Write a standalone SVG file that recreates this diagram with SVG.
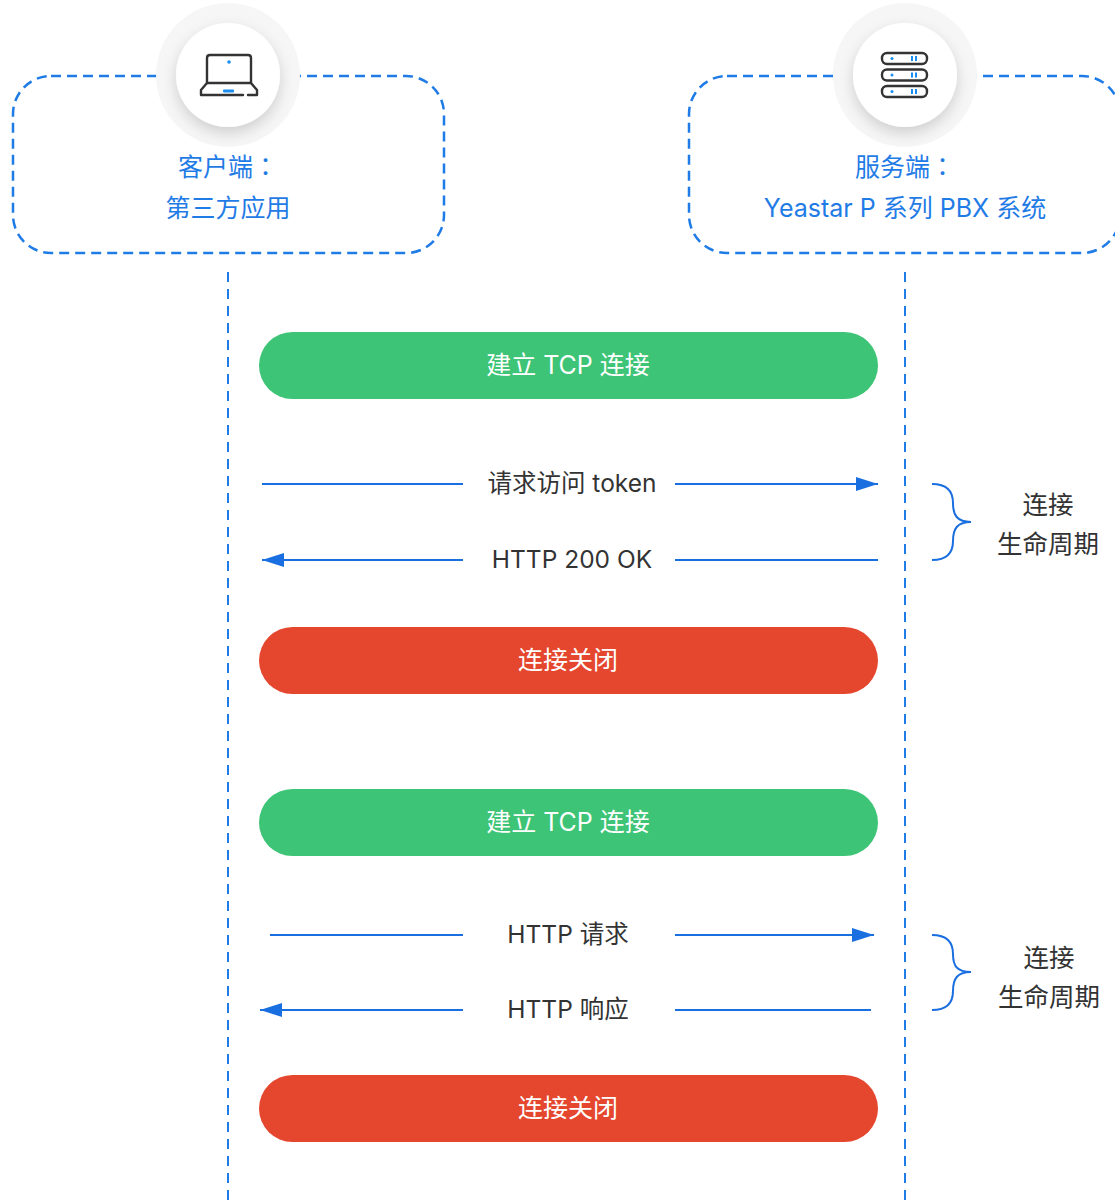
<svg xmlns="http://www.w3.org/2000/svg" width="1115" height="1203" viewBox="0 0 1115 1203">
<defs>
<style>
.box{fill:none;stroke:#1f7be6;stroke-width:2.5;stroke-dasharray:10 6}
.life{fill:none;stroke:#1f7be6;stroke-width:2;stroke-dasharray:10 7}
.head{font-family:Inter,"Noto Sans CJK SC",sans-serif;font-size:25px;fill:#1f7be6;text-anchor:middle}
.colon{font-family:"Noto Sans CJK TC",sans-serif}
.pilltxt{font-family:Inter,"Noto Sans CJK SC",sans-serif;font-size:25px;fill:#ffffff;text-anchor:middle}
.lbl{font-family:Inter,"Noto Sans CJK SC",sans-serif;font-size:24.5px;fill:#333333;text-anchor:middle}
.blbl{font-family:"Noto Sans CJK SC",sans-serif;font-size:25.5px;fill:#333333;text-anchor:middle}
.msg{fill:none;stroke:#1a6fe0;stroke-width:2}
.brace{fill:none;stroke:#1a6fe0;stroke-width:2}
.green{fill:#3dc476}
.red{fill:#e5462e}
.ico{fill:none;stroke:#333333;stroke-width:2.4;stroke-linejoin:round;stroke-linecap:round}
.icob{fill:#1a8ef0}
</style>
<filter id="sh" x="-60%" y="-60%" width="220%" height="220%">
<feDropShadow dx="0" dy="6" stdDeviation="7" flood-color="#000000" flood-opacity="0.16"/>
</filter>
<marker id="ah" markerUnits="userSpaceOnUse" markerWidth="24" markerHeight="16" refX="22" refY="7" orient="auto" viewBox="0 0 24 16">
<path d="M0,0 L22,7 L0,14 Z" fill="#1a6fe0"/>
</marker>
</defs>

<g id="client">
<rect class="box" x="13" y="76" width="431" height="177" rx="38"/>
<circle cx="228" cy="75" r="72" fill="#f6f6f7"/>
<circle cx="228" cy="75" r="52" fill="#ffffff" filter="url(#sh)"/>
<path class="ico" d="M207,83 L207,58 Q207,55 210,55 L248,55 Q251,55 251,58 L251,83 Z"/>
<path class="ico" d="M207,83 L201,90 L201,95 L243,95 M248,95 L257,95 L257,90 L251,83"/>
<circle class="icob" cx="229" cy="62" r="1.8"/>
<rect class="icob" x="223" y="89.5" width="11" height="3" rx="1"/>
<text class="head" x="228" y="176">客户端<tspan class="colon">：</tspan></text>
<text class="head" x="228" y="217">第三方应用</text>
</g>

<g id="server">
<rect class="box" x="689" y="76" width="431" height="177" rx="38"/>
<circle cx="905" cy="75" r="72" fill="#f6f6f7"/>
<circle cx="905" cy="75" r="52" fill="#ffffff" filter="url(#sh)"/>
<rect class="ico" x="882" y="53" width="45" height="11" rx="5"/>
<rect class="ico" x="882" y="69.5" width="45" height="11" rx="5"/>
<rect class="ico" x="882" y="86" width="45" height="11" rx="5"/>
<circle class="icob" cx="892" cy="58.5" r="1.5"/>
<circle class="icob" cx="892" cy="75" r="1.5"/>
<circle class="icob" cx="892" cy="91.5" r="1.5"/>
<rect class="icob" x="911" y="56" width="2" height="5"/>
<rect class="icob" x="915" y="56" width="2" height="5"/>
<rect class="icob" x="911" y="72.5" width="2" height="5"/>
<rect class="icob" x="915" y="72.5" width="2" height="5"/>
<rect class="icob" x="911" y="89" width="2" height="5"/>
<rect class="icob" x="915" y="89" width="2" height="5"/>
<text class="head" x="905" y="176">服务端<tspan class="colon">：</tspan></text>
<text class="head" x="905" y="217">Yeastar P 系列 PBX 系统</text>
</g>

<g id="lifelines">
<line class="life" x1="228" y1="272" x2="228" y2="1203"/>
<line class="life" x1="905" y1="272" x2="905" y2="1203"/>
</g>

<g id="tcp1">
<rect class="green" x="259" y="332" width="619" height="67" rx="33.5"/>
<text class="pilltxt" x="568" y="374">建立 TCP 连接</text>
</g>
<g id="close1">
<rect class="red" x="259" y="627" width="619" height="67" rx="33.5"/>
<text class="pilltxt" x="568" y="669">连接关闭</text>
</g>
<g id="tcp2">
<rect class="green" x="259" y="789" width="619" height="67" rx="33.5"/>
<text class="pilltxt" x="568" y="831">建立 TCP 连接</text>
</g>
<g id="close2">
<rect class="red" x="259" y="1075" width="619" height="67" rx="33.5"/>
<text class="pilltxt" x="568" y="1117">连接关闭</text>
</g>

<g id="connectors">
<line class="msg" x1="262" y1="484" x2="463" y2="484"/>
<line class="msg" x1="675" y1="484" x2="878" y2="484" marker-end="url(#ah)"/>
<line class="msg" x1="463" y1="560" x2="262" y2="560" marker-end="url(#ah)"/>
<line class="msg" x1="675" y1="560" x2="878" y2="560"/>
<line class="msg" x1="270" y1="935" x2="463" y2="935"/>
<line class="msg" x1="675" y1="935" x2="874" y2="935" marker-end="url(#ah)"/>
<line class="msg" x1="463" y1="1010" x2="260" y2="1010" marker-end="url(#ah)"/>
<line class="msg" x1="675" y1="1010" x2="871" y2="1010"/>
</g>

<g id="labels">
<text class="lbl" x="572" y="492">请求访问 token</text>
<text class="lbl" x="572" y="568">HTTP 200 OK</text>
<text class="lbl" x="568" y="943">HTTP 请求</text>
<text class="lbl" x="568" y="1018">HTTP 响应</text>
</g>

<g id="lifecycle1">
<path class="brace" d="M932,484 C948,484 953,492 953,503 C953,515 957,522 971,522 C957,522 953,529 953,541 C953,552 948,560 932,560"/>
<text class="blbl" x="1048" y="514">连接</text>
<text class="blbl" x="1048" y="553">生命周期</text>
</g>
<g id="lifecycle2">
<path class="brace" d="M932,935 C948,935 953,943 953,954 C953,966 957,972 971,972 C957,972 953,979 953,991 C953,1002 948,1010 932,1010"/>
<text class="blbl" x="1049" y="967">连接</text>
<text class="blbl" x="1049" y="1006">生命周期</text>
</g>
</svg>
